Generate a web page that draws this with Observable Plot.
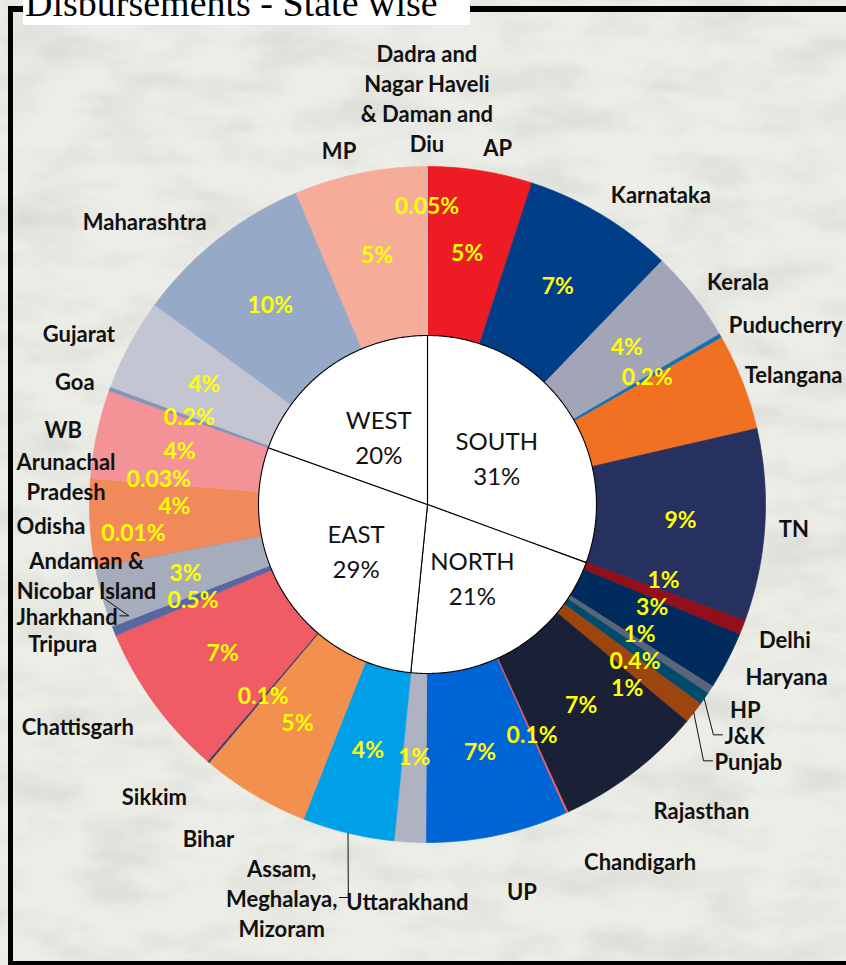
<!DOCTYPE html>
<html><head><meta charset="utf-8">
<script src="https://cdn.jsdelivr.net/npm/d3@7"></script>
<script src="https://cdn.jsdelivr.net/npm/@observablehq/plot@0.6"></script>
<style>
html,body{margin:0;padding:0;}
body{width:846px;height:965px;overflow:hidden;position:relative;background:#ecede7;font-family:Lato,sans-serif;}
#noise{position:absolute;left:0;top:0;}
#frame{position:absolute;left:8px;top:6px;width:900px;height:949px;border-left:5px solid #000;border-top:6px solid #000;border-bottom:4px solid #000;}
#titlebox{position:absolute;left:23px;top:0;width:447px;height:25px;background:#fff;}
#title{position:absolute;left:25px;top:-16px;font-family:"Liberation Serif",serif;font-size:38px;line-height:38px;white-space:nowrap;color:#000;}
#chart{position:absolute;left:0;top:0;}
</style></head>
<body>
<svg id="noise" width="846" height="965"><filter id="nz" x="0" y="0" width="100%" height="100%"><feTurbulence type="fractalNoise" baseFrequency="0.012 0.03" numOctaves="4" seed="3"/><feColorMatrix type="matrix" values="0 0 0 0 0.55  0 0 0 0 0.56  0 0 0 0 0.53  0.9 0 0 0 -0.38"/></filter><rect width="846" height="965" filter="url(#nz)"/></svg>
<div id="frame"></div>
<div id="titlebox"></div>
<div id="title">Disbursements - State wise</div>
<div id="chart"></div>
<script>
// ---------- data ----------
const states = [
  "AP","Karnataka","Kerala","Puducherry","Telangana","TN",
  "Delhi","Haryana","HP","J&K","Punjab","Rajasthan","Chandigarh","UP","Uttarakhand",
  "Assam,\nMeghalaya,\nMizoram","Bihar","Sikkim","Chattisgarh","Tripura","Jharkhand",
  "Andaman &\nNicobar Island","Odisha","Arunachal\nPradesh","WB",
  "Goa","Gujarat","Maharashtra","MP","Dadra and\nNagar Haveli\n& Daman and\nDiu"
];
const regionOf = [
  "SOUTH","SOUTH","SOUTH","SOUTH","SOUTH","SOUTH",
  "NORTH","NORTH","NORTH","NORTH","NORTH","NORTH","NORTH","NORTH","NORTH",
  "EAST","EAST","EAST","EAST","EAST","EAST","EAST","EAST","EAST","EAST",
  "WEST","WEST","WEST","WEST","WEST"
];
const shares = [
  5.0, 7.2, 4.4, 0.2, 4.6, 9.2,
  0.7, 2.75, 0.4, 0.6, 1.05, 7.1, 0.1, 6.8, 1.5,
  4.4, 5.2, 0.1, 7.4, 0.45, 2.9, 0.01, 4.2, 0.03, 4.2,
  0.2, 4.4, 8.6, 6.3, 0.05
];
const pctLabels = [
  "5%","7%","4%","0.2%","","9%",
  "1%","3%","1%","0.4%","1%","7%","0.1%","7%","1%",
  "4%","5%","0.1%","7%","0.5%","3%","0.01%","4%","0.03%","4%",
  "0.2%","4%","10%","5%","0.05%"
];
const sliceColors = [
  "#ed1c24","#003f88","#a2a5b8","#0e72b5","#f17022","#273160",
  "#92101a","#012b5c","#5b6479","#004b6b","#9d450f","#1a2036","#ef5d6b","#0065d4","#afb3c1",
  "#00a0e8","#f39050","#33406e","#ef5c65","#5667a1","#a7acbc","#8a93ad","#f2895b","#f3a07a","#f39398",
  "#8394b9","#c4c5d3","#96aac8","#f5ac99","#c3c3c9"
];
const regionNames = ["SOUTH","NORTH","EAST","WEST"];

// ---------- geometry (unit circle = outer radius) ----------
const K = 338;          // px per unit, used for label collision layout
const R_IN = 0.5;
const total = d3.sum(shares);
let acc = 0;
const slices = states.map((name, i) => {
  const a0 = acc / total * 2 * Math.PI; acc += shares[i];
  const a1 = acc / total * 2 * Math.PI;
  return {name, region: regionOf[i], value: shares[i], a0, a1, mid: (a0 + a1) / 2,
          color: sliceColors[i], label: pctLabels[i]};
});
const polar = (a, r) => [r * Math.sin(a), r * Math.cos(a)];
function ringPoly(a0, a1, r0, r1) {
  const n = Math.max(2, Math.ceil((a1 - a0) / (Math.PI / 360)));
  const pts = [];
  for (let k = 0; k <= n; k++) pts.push(polar(a0 + (a1 - a0) * k / n, r1));
  if (r0 > 0) for (let k = n; k >= 0; k--) pts.push(polar(a0 + (a1 - a0) * k / n, r0));
  else pts.push([0, 0]);
  pts.push(pts[0]);
  return pts;
}
const slicePts = slices.flatMap(d => ringPoly(d.a0, d.a1, R_IN, 1).map(([x, y]) => ({x, y, key: d.name, color: d.color})));

// inner regions
let acc2 = 0;
const regionArr = regionNames.map(r => {
  const v = d3.sum(slices.filter(s => s.region === r), s => s.value);
  const a0 = acc2 / total * 2 * Math.PI; acc2 += v;
  const a1 = acc2 / total * 2 * Math.PI;
  return {region: r, value: v, a0, a1, mid: (a0 + a1) / 2, pct: Math.round(v / total * 100) + "%"};
});
const regionPts = regionArr.flatMap(d => ringPoly(d.a0, d.a1, 0, R_IN).map(([x, y]) => ({x, y, key: d.region})));
const regionText = regionArr.map(d => {
  const [x, y] = polar(d.mid, R_IN * 0.5);
  return {x, y, text: d.region + "\n" + d.pct};
});

// ---------- label layout (px, relative to centre, y down) ----------
const ctx = document.createElement("canvas").getContext("2d");
function tw(text, font) { ctx.font = font; return ctx.measureText(text).width; }
const PFS = 23, NFS = 22, LH = 30;
const pctFont = `bold ${PFS}px Lato`, nameFont = `bold ${NFS}px Lato`;
const MINX = 16 - 427, MAXX = 842 - 427, MAXY = 938 - 504;
const RC = 1.04 * K;

// name labels: natural spot just outside the ring, then de-overlap per side
const nl = slices.map(d => {
  const lines = d.name.split("\n");
  const w = d3.max(lines, l => tw(l, nameFont));
  const h = lines.length === 1 ? 22 : lines.length * LH - 8;
  const s = Math.sin(d.mid), c = Math.cos(d.mid);
  const R0 = K * (1.04 + 0.1 * Math.pow(Math.max(0, -c), 2));
  const anchor = Math.abs(s) < 0.1 ? "middle" : (s > 0 ? "start" : "end");
  const px = R0 * s, py = -R0 * c;
  const cy = py - (h / 2) * c;
  return {d, text: d.name, w, h, anchor, px, R0, cy0: cy, cy, dx: 0};
});
function place(n) {
  const yn = Math.max(0, Math.abs(n.cy) - n.h / 2);
  const minX = yn < RC ? Math.sqrt(RC * RC - yn * yn) : 0;
  if (n.anchor === "start") {
    let x = Math.max(n.px, minX) + n.dx; x = Math.min(x, MAXX - n.w);
    n.left = x; n.right = x + n.w;
  } else if (n.anchor === "end") {
    let x = Math.min(n.px, -minX) + n.dx; x = Math.max(x, MINX + n.w);
    n.right = x; n.left = x - n.w;
  } else { n.left = n.px - n.w / 2 + n.dx; n.right = n.left + n.w; }
  n.xc = (n.left + n.right) / 2;
}
for (const side of ["start", "end"]) {
  const g = nl.filter(n => n.anchor === side).sort((a, b) => a.cy - b.cy);
  g.forEach(place);
  for (let pass = 0; pass < 3; pass++) {
    for (let i = 1; i < g.length; i++) for (let j = 0; j < i; j++) {
      const a = g[j], b = g[i];
      place(a); place(b);
      const ho = Math.min(a.right, b.right) - Math.max(a.left, b.left);
      const need = (a.h + b.h) / 2 + 4;
      if (ho > 0 && b.cy - a.cy < need) {
        if (ho <= 20) b.dx += (b.xc >= a.xc ? 1 : -1) * (ho + 3);
        else b.cy = a.cy + need;
        place(b);
      }
    }
  }
  for (let i = g.length - 1; i >= 0; i--) {
    const b = g[i];
    if (b.cy + b.h / 2 > MAXY) b.cy = MAXY - b.h / 2;
    place(b);
    for (let j = i - 1; j >= 0; j--) {
      const a = g[j]; place(a);
      const ho = Math.min(a.right, b.right) - Math.max(a.left, b.left);
      const need = (a.h + b.h) / 2 + 4;
      if (ho > 0 && b.cy - a.cy < need) { a.cy = b.cy - need; place(a); }
    }
  }
}
nl.forEach(place);

// percentage labels: slice centre, relaxed against each other and the names
const pl = slices.filter(d => d.label).map(d => {
  const r = (d.value < 0.06 ? 0.88 : 0.75) * K;
  return {text: d.label, x: r * Math.sin(d.mid), y: -r * Math.cos(d.mid), w: tw(d.label, pctFont) + 6, h: 27};
});
const obstacles = nl.map(n => ({x: n.xc, y: n.cy, w: n.w + 16, h: n.h + 4}));
for (let it = 0; it < 900; it++) {
  for (let i = 0; i < pl.length; i++) {
    const a = pl[i];
    for (let j = i + 1; j < pl.length; j++) {
      const b = pl[j];
      const dx = b.x - a.x, dy = b.y - a.y;
      const ox = (a.w + b.w) / 2 - Math.abs(dx), oy = (a.h + b.h) / 2 - Math.abs(dy);
      if (ox > 0 && oy > 0) {
        if (ox < oy) { const s = (dx >= 0 ? 1 : -1) * ox * 0.3; a.x -= s; b.x += s; }
        else { const s = (dy >= 0 ? 1 : -1) * oy * 0.3; a.y -= s; b.y += s; }
      }
    }
    for (const b of obstacles) {
      const dx = b.x - a.x, dy = b.y - a.y;
      const ox = (a.w + b.w) / 2 - Math.abs(dx), oy = (a.h + b.h) / 2 - Math.abs(dy);
      if (ox > 0 && oy > 0) {
        if (ox < oy) a.x -= (dx >= 0 ? 1 : -1) * ox * 0.5;
        else a.y -= (dy >= 0 ? 1 : -1) * oy * 0.5;
      }
    }
  }
  for (const p of pl) {
    const r = Math.hypot(p.x, p.y), rc = Math.max(0.58 * K, Math.min(0.95 * K, r));
    if (r !== rc) { p.x *= rc / r; p.y *= rc / r; }
  }
}
const pctText = pl.map(p => ({x: p.x / K, y: -p.y / K, text: p.text}));

// leaders for displaced names
const leaderPts = [];
const nameText = nl.map(n => {
  if (Math.abs(n.cy - n.cy0) > 6 || Math.abs(n.dx) > 6) {
    const [sx, sy] = polar(n.d.mid, 1.0);
    const sg = n.xc < sx * K ? -1 : 1;
    const ex = sg > 0 ? n.left : n.right;
    const pts = [[sx, sy], [(ex - sg * 11) / K, -n.cy / K], [(ex - sg * 2) / K, -n.cy / K]];
    pts.forEach(([lx, ly]) => leaderPts.push({x: lx, y: ly, key: n.text}));
  }
  return {x: n.xc / K, y: -n.cy / K, text: n.text};
});

// ---------- plot ----------
const cx = 427, cyPx = 504;
const chart = Plot.plot({
  width: 846, height: 965, margin: 0,
  x: {domain: [-1, 1], range: [cx - K, cx + K], axis: null},
  y: {domain: [-1, 1], range: [cyPx + K, cyPx - K], axis: null},
  color: {type: "identity"},
  style: {background: "transparent", overflow: "visible", fontFamily: "Lato, sans-serif"},
  marks: [
    Plot.line(slicePts, {x: "x", y: "y", z: "key", fill: "color", stroke: "color", strokeWidth: 0.7}),
    Plot.line(regionPts, {x: "x", y: "y", z: "key", fill: "white", stroke: "black", strokeWidth: 1.1}),
    Plot.text(regionText, {x: "x", y: "y", text: "text", fontSize: 24, lineHeight: 1.45, fill: "#111", fontFamily: "Lato"}),
    Plot.line(leaderPts, {x: "x", y: "y", z: "key", stroke: "#111", strokeWidth: 1}),
    Plot.text(pctText, {x: "x", y: "y", text: "text", fontSize: PFS, fontWeight: "bold", fill: "#ffff00", fontFamily: "Lato"}),
    Plot.text(nameText, {x: "x", y: "y", text: "text", fontSize: NFS, fontWeight: "bold", lineHeight: LH / NFS, fill: "#111", fontFamily: "Lato"})
  ]
});
document.getElementById("chart").appendChild(chart);
</script>
</body></html>
